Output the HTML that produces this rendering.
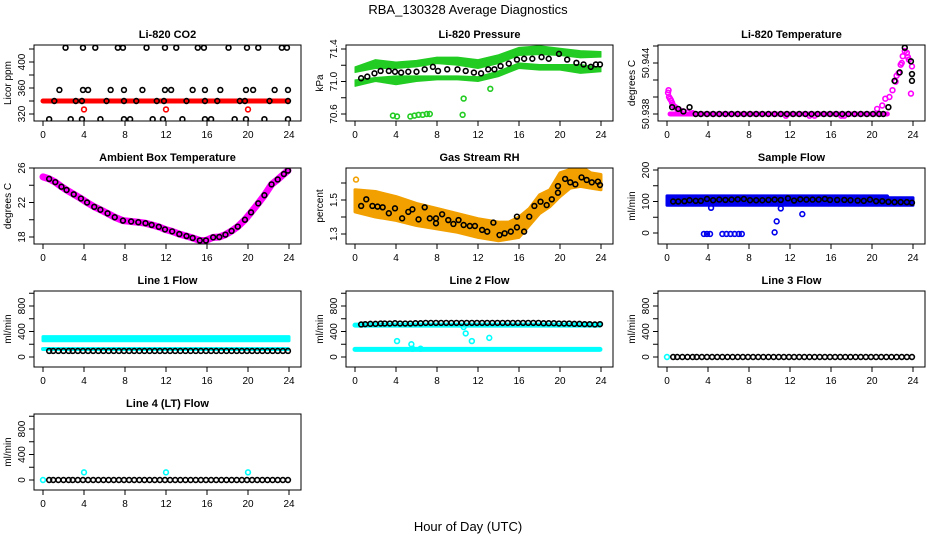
<!DOCTYPE html>
<html><head><meta charset="utf-8"><style>
body{margin:0;background:#fff}
svg{display:block;font-family:"Liberation Sans",sans-serif}
</style></head><body>
<svg id="s" width="936" height="540" viewBox="0 0 936 540">
<text x="468" y="14" text-anchor="middle" font-size="13">RBA_130328  Average Diagnostics</text>
<text x="468" y="531" text-anchor="middle" font-size="13">Hour of Day (UTC)</text>
</svg>
<script>
// ---- data ----
const xTicks=[0,4,8,12,16,20,24];
const co2Top=[2.2,3.9,5.1,7.3,7.8,10.1,11.9,13.0,15.1,15.7,18.1,19.9,21.0,23.3,23.8];
const co2Mid=[1.6,3.9,4.4,6.6,7.9,9.7,11.9,12.5,14.6,15.8,17.3,19.8,20.5,22.6,23.9];
const co2Band=[1.1,3.2,3.8,6.2,7.9,9.1,11.1,11.8,14.0,15.8,17.0,19.2,19.7,22.1,23.9];
const co2Low=[0.6,2.7,3.8,5.6,7.9,8.5,10.7,11.7,13.6,15.8,16.4,18.7,19.8,21.6,23.9];
const co2Levels=[422,357,340,312];
const co2RedOut=[4,12,20];
const co2RedOutVal=327;
const co2RedLevel=340;

const pHours=[0.6,1.2,1.9,2.5,3.3,3.9,4.5,5.2,6.0,6.8,7.6,8.1,9.0,10,10.8,11.6,12.3,13,13.6,14.2,15,15.8,16.5,17.3,18.2,18.9,19.9,20.7,21.6,22.3,23,23.5,23.9];
const pVals=[71.04,71.06,71.10,71.13,71.13,71.12,71.11,71.12,71.12,71.15,71.18,71.13,71.15,71.15,71.13,71.11,71.10,71.15,71.15,71.19,71.22,71.27,71.28,71.28,71.30,71.28,71.34,71.27,71.23,71.21,71.18,71.21,71.21];
const pBandH=[0,2,4,6,8,10,12,14,16,18,20,22,24];
const pUpHi=[71.18,71.27,71.24,71.26,71.30,71.30,71.27,71.33,71.42,71.44,71.41,71.38,71.37];
const pUpLo=[71.11,71.16,71.16,71.18,71.22,71.20,71.16,71.22,71.32,71.33,71.32,71.29,71.30];
const pLoHi=[71.02,71.05,71.07,71.07,71.07,71.07,71.06,71.13,71.23,71.21,71.21,71.21,71.17];
const pLoLo=[70.94,71.00,70.96,71.00,71.02,71.02,71.00,71.06,71.16,71.14,71.14,71.10,71.12];
const pOutH=[3.7,4.1,5.4,5.8,6.2,6.6,7.0,7.3,10.5,10.6,13.2];
const pOutV=[70.58,70.57,70.57,70.58,70.59,70.59,70.6,70.6,70.59,70.79,70.91];

const tBlackH=[0.5,1.1,1.6,2.2,2.8,3.3,3.9,4.5,5.1,5.7,6.3,6.9,7.5,8.1,8.7,9.3,9.9,10.5,11.1,11.7,12.3,12.9,13.5,14.1,14.7,15.3,15.9,16.5,17.1,17.7,18.3,18.9,19.5,20.1,20.7,21.1,21.6,22.2,22.7,23.2,23.8,23.9,23.9];
const tBlackV=[50.9388,50.9386,50.9383,50.9388,50.938,50.938,50.938,50.938,50.938,50.938,50.938,50.938,50.938,50.938,50.938,50.938,50.938,50.938,50.938,50.938,50.938,50.938,50.938,50.938,50.938,50.938,50.938,50.938,50.938,50.938,50.938,50.938,50.938,50.938,50.938,50.938,50.9388,50.9419,50.9429,50.9458,50.9442,50.9419,50.9427];
const tMagH=[0.1,0.15,0.2,0.3,0.4,0.5,0.6,0.8,1.0,1.3,1.6,2.0,2.5,11.6,13.9,14.4,17.0,17.3,20.5,21.0,21.3,21.7,22.0,22.3,22.6,22.8,23.0,23.2,23.4,23.6,23.8,23.9,22.4,22.9,23.5];
const tMagV=[50.9405,50.9408,50.94,50.9398,50.9396,50.9393,50.939,50.9388,50.9386,50.9384,50.9383,50.9382,50.9381,50.9378,50.9378,50.9378,50.9378,50.9378,50.9386,50.9390,50.9398,50.9400,50.9408,50.9418,50.9428,50.9438,50.9448,50.9454,50.9452,50.9444,50.9404,50.9436,50.9425,50.9440,50.9447];
const tFlat=50.938;

const aHours=[0,0.6,1.2,1.8,2.3,3.0,3.7,4.3,5.0,5.6,6.3,7.0,7.8,8.6,9.3,10,10.6,11.3,11.9,12.6,13.3,14.0,14.6,15.3,15.9,16.6,17.2,17.8,18.4,19.0,19.7,20.3,21.0,21.6,22.3,22.9,23.5,23.9];
const aVals=[24.97,24.74,24.36,23.83,23.45,22.95,22.46,22.0,21.5,21.16,20.74,20.29,19.9,19.8,19.71,19.6,19.4,19.18,18.88,18.65,18.34,18.11,17.89,17.6,17.6,17.96,18.0,18.27,18.7,19.2,20.0,20.86,21.9,22.84,24.1,24.67,25.3,25.7];

const rhHours=[0.6,1.1,1.7,2.2,2.7,3.3,3.9,4.6,5.2,5.6,6.2,6.8,7.3,7.9,7.9,8.5,9.1,9.6,10.1,10.6,11.2,11.7,12.4,12.9,13.5,14.1,14.6,15.2,15.8,15.8,16.5,17.0,17.5,18.1,18.7,19.2,19.8,19.8,20.5,21.0,21.5,22.1,22.6,23.1,23.7,23.9];
const rhVals=[1.465,1.504,1.465,1.461,1.457,1.422,1.451,1.392,1.43,1.445,1.386,1.457,1.392,1.392,1.363,1.416,1.382,1.359,1.382,1.353,1.347,1.347,1.324,1.314,1.367,1.294,1.304,1.314,1.339,1.402,1.314,1.402,1.465,1.49,1.47,1.504,1.543,1.582,1.624,1.604,1.592,1.633,1.618,1.604,1.608,1.588];
const rhBandH=[0,2,4,6,8,10,12,14,15,16,17,18,19,20,21,22,23,24];
const rhLo=[1.43,1.40,1.38,1.35,1.33,1.31,1.28,1.26,1.27,1.28,1.35,1.42,1.46,1.52,1.57,1.58,1.57,1.56];
const rhHi=[1.56,1.55,1.52,1.48,1.45,1.42,1.39,1.37,1.37,1.40,1.45,1.53,1.56,1.66,1.68,1.70,1.66,1.65];

const sfHours=[0.6,1.1,1.7,2.2,2.8,3.3,3.9,4.5,5.1,5.7,6.3,6.9,7.5,8.1,8.7,9.3,9.9,10.5,11.1,11.8,12.4,13.0,13.6,14.2,14.8,15.4,15.9,16.6,17.3,17.9,18.6,19.2,19.8,20.4,21.0,21.6,22.2,22.8,23.4,23.9];
const sfVals=[100,100,101,104,102,102,108,104,106,105,106,107,108,104,104,104,105,106,105,110,103,107,106,106,106,108,105,105,105,104,103,102,106,101,101,99,98,98,98,96];
const sfBandH=[0,21.5,21.6,24];
const sfBandLo=[88,88,88,88];
const sfBandHi=[118,118,112,112];
const sfOutH=[3.6,3.9,4.2,4.3,5.4,5.8,6.2,6.6,7.0,7.3,10.5,10.7,11.1,13.2];
const sfOutV=[-3,-3,-3,80,-3,-3,-3,-3,-3,-3,2,37,78,60];

const flowHours=[0.6,1.0,1.5,2.0,2.5,2.9,3.4,3.9,4.4,4.9,5.4,5.9,6.4,6.9,7.4,7.9,8.4,8.9,9.4,9.9,10.4,10.9,11.4,11.9,12.4,12.9,13.4,13.9,14.4,14.9,15.4,15.9,16.4,16.9,17.4,17.9,18.4,18.9,19.4,19.9,20.4,20.9,21.4,21.9,22.4,22.9,23.4,23.9];
const l1Black=95, l1CyanHi=320, l1CyanLo=255, l1CyanLine=125;
const l2Black=[510,515,520,520,525,525,525,530,525,525,525,530,530,535,535,535,535,535,535,535,535,535,535,535,535,535,535,535,535,535,535,535,535,535,535,535,530,530,530,525,525,525,520,520,515,515,510,515];
const l2CyanHi=515, l2CyanLo=485, l2CyanLine=120;
const l2OutH=[4.1,5.5,5.6,6.4,10.6,10.8,11.4,13.1];
const l2OutV=[250,200,130,130,470,370,250,300];
const l3Black=0;
const l4Black=0;
const l4OutH=[4,12,20];
const l4OutV=[120,120,120];

// ---- drawing ----
const S=document.getElementById('s');
const NS='http://www.w3.org/2000/svg';
function mk(tag,at,parent){const e=document.createElementNS(NS,tag);for(const k in at)e.setAttribute(k,at[k]);(parent||S).appendChild(e);return e;}
function panel(c,r,title,ylab,v0,o0,v1,o1,yticks,ylabels,fmt){
  const L=34+312*c,T=45+123*r,W=267,H=76,B=T+H;
  const g=mk('g',{});
  
  
  const X=h=>L+9+h*10.25;
  const Y=v=>T+o0+(v-v0)/(v1-v0)*(o1-o0);
  const t=mk('text',{x:L+W/2,y:T-7,'text-anchor':'middle','font-size':'11','font-weight':'bold'},g);t.textContent=title;
  
  const yl=mk('text',{x:0,y:0,'text-anchor':'middle','font-size':'10',transform:`translate(${L-23},${T+H/2}) rotate(-90)`},g);yl.textContent=ylab;
  
  const plot=mk('g',{},g);
  
  const clip='c'+c+r;
  const cp=mk('clipPath',{id:clip},g);mk('rect',{x:L,y:T,width:W,height:H},cp);
  plot.setAttribute('clip-path','url(#'+clip+')');
  const fr=mk('rect',{x:L,y:T,width:W,height:H,fill:'none',stroke:'#000','stroke-width':1},g);
  
  xTicks.forEach(h=>{mk('line',{x1:X(h),x2:X(h),y1:B,y2:B+5,stroke:'#000'},g);
    const tx=mk('text',{x:X(h),y:B+17,'text-anchor':'middle','font-size':'10'},g);tx.textContent=h;
    });
  yticks.forEach(v=>{mk('line',{x1:L,x2:L-5,y1:Y(v),y2:Y(v),stroke:'#000'},g);});
  ylabels.forEach(v=>{const tx=mk('text',{x:0,y:0,'text-anchor':'middle','font-size':'10',transform:`translate(${L-9},${Y(v)}) rotate(-90)`},g);
    tx.textContent=fmt?fmt(v):v;});
  return {X,Y,g:plot};
}
function pt(P,h,v,col,name){const e=mk('circle',{cx:P.X(h),cy:P.Y(v),r:2.4,fill:'none',stroke:col,'stroke-width':1.6},P.g);
  return e;}
function band(P,hs,lo,hi,col,name,sw){
  const top=hs.map((h,i)=>P.X(h)+','+P.Y(hi[i]));
  const bot=hs.map((h,i)=>P.X(h)+','+P.Y(lo[i])).reverse();
  const e=mk('polygon',{points:top.concat(bot).join(' '),fill:col,stroke:col,'stroke-width':sw==null?3:sw,'stroke-linejoin':'round'},P.g);
  }
function hline(P,h0,h1,v,col,w,name){const e=mk('line',{x1:P.X(h0),x2:P.X(h1),y1:P.Y(v),y2:P.Y(v),stroke:col,'stroke-width':w,'stroke-linecap':'round'},P.g);
  }

// CO2
let P=panel(0,0,'Li-820 CO2','Licor ppm',320,69,400,17,[320,340,360,380,400,420],[320,360,400]);
hline(P,0,23.9,co2RedLevel,'#f00',5,'co2-red-band');
co2RedOut.forEach(h=>pt(P,h,co2RedOutVal,'#f00','co2-red-point'));
[co2Top,co2Mid,co2Band,co2Low].forEach((arr,k)=>arr.forEach(h=>pt(P,h,co2Levels[k],'#000','co2-black-point')));

// Pressure
P=panel(1,0,'Li-820 Pressure','kPa',70.6,69,71.4,4,[70.6,70.8,71.0,71.2,71.4],[70.6,71.0,71.4],v=>v.toFixed(1));
band(P,pBandH,pUpLo,pUpHi,'#22cc22','pressure-upper-band',1);
band(P,pBandH,pLoLo,pLoHi,'#22cc22','pressure-lower-band',1);
pOutH.forEach((h,i)=>pt(P,h,pOutV[i],'#22cc22','pressure-green-point'));
pHours.forEach((h,i)=>pt(P,h,pVals[i],'#000','pressure-black-point'));

// Temperature
P=panel(2,0,'Li-820 Temperature','degrees C',50.938,69,50.944,18,[50.938,50.940,50.942,50.944,50.946],[50.938,50.944],v=>v.toFixed(3));
hline(P,0.3,21.5,tFlat,'#f0f',5,'temp-magenta-flat');
tMagH.forEach((h,i)=>pt(P,h,tMagV[i],'#f0f','temp-magenta-point'));
tBlackH.forEach((h,i)=>pt(P,h,tBlackV[i],'#000','temp-black-point'));

// Ambient
P=panel(0,1,'Ambient Box Temperature','degrees C',18,69,26,0,[18,20,22,24,26],[18,22,26]);
{const e=mk('polyline',{points:aHours.map((h,i)=>P.X(h)+','+P.Y(aVals[i])).join(' '),fill:'none',stroke:'#f0f','stroke-width':7,'stroke-linejoin':'round','stroke-linecap':'round'},P.g);
}
aHours.forEach((h,i)=>{if(i>0)pt(P,h,aVals[i],'#000','ambient-black-point');});

// RH
P=panel(1,1,'Gas Stream RH','percent',1.3,66,1.5,32,[1.3,1.4,1.5,1.6],[1.3,1.5],v=>v.toFixed(1));
band(P,rhBandH,rhLo,rhHi,'#f2a000','rh-orange-band');
pt(P,0.1,1.62,'#f2a000','rh-orange-point');
rhHours.forEach((h,i)=>pt(P,h,rhVals[i],'#000','rh-black-point'));

// Sample flow
P=panel(2,1,'Sample Flow','ml/min',0,65,200,2,[0,50,100,150,200],[0,100,200]);
band(P,sfBandH,sfBandLo,sfBandHi,'#0000ee','sample-blue-band');
sfOutH.forEach((h,i)=>pt(P,h,sfOutV[i],'#0000ee','sample-blue-point'));
sfHours.forEach((h,i)=>pt(P,h,sfVals[i],'#000','sample-black-point'));

const fTicks=[0,200,400,600,800,1000], fLab=[0,400,800];
// Line 1
P=panel(0,2,'Line 1 Flow','ml/min',0,66,800,15,fTicks,fLab);
band(P,[0,24],[l1CyanLo,l1CyanLo],[l1CyanHi,l1CyanHi],'#00ffff','line1-cyan-band');
hline(P,0,23.9,l1CyanLine,'#00ffff',4,'line1-cyan-low');
flowHours.forEach(h=>pt(P,h,l1Black,'#000','line1-black-point'));
// Line 2
P=panel(1,2,'Line 2 Flow','ml/min',0,66,800,15,fTicks,fLab);
hline(P,0,23.9,(l2CyanHi+l2CyanLo)/2,'#00ffff',5,'line2-cyan-high');
hline(P,0,23.9,l2CyanLine,'#00ffff',5,'line2-cyan-low');
l2OutH.forEach((h,i)=>pt(P,h,l2OutV[i],'#00ffff','line2-cyan-point'));
flowHours.forEach((h,i)=>pt(P,h,l2Black[i],'#000','line2-black-point'));
// Line 3
P=panel(2,2,'Line 3 Flow','ml/min',0,66,800,15,fTicks,fLab);
pt(P,0,0,'#00ffff','line3-cyan-point');
flowHours.forEach(h=>pt(P,h,l3Black,'#000','line3-black-point'));
// Line 4
P=panel(0,3,'Line 4 (LT) Flow','ml/min',0,66,800,15,fTicks,fLab);
pt(P,0,0,'#00ffff','line4-cyan-point');
flowHours.forEach(h=>pt(P,h,l4Black,'#000','line4-black-point'));
l4OutH.forEach((h,i)=>pt(P,h,l4OutV[i],'#00ffff','line4-cyan-point'));
</script>
</body></html>
